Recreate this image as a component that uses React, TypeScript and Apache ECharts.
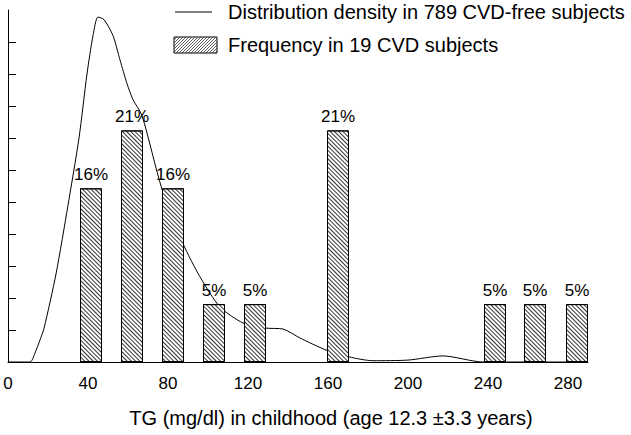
import React, { useEffect, useRef } from "react";
import * as echarts from "echarts";

// Bars: CVD subjects (counts out of 19) placed at the TG bin centres
const binCenters = [41.5, 62, 82.5, 103, 123.5, 165, 243.5, 263.5, 284.5];
const cvdCounts = [3, 4, 3, 1, 1, 4, 1, 1, 1];
const cvdTotal = 19;

// Density curve in 789 CVD-free subjects (arbitrary density units)
const densityTg = [0, 11, 13.5, 16, 18, 24, 30, 35.5, 39.5, 42.5, 45, 48, 52.5, 56, 59.5, 62.5, 67, 77, 87.5, 96, 106, 117.5, 129, 137.5, 146, 159, 170.5, 182.5, 200, 217.5, 237.5, 290];
const densityVal = [0, 0, 0.28, 0.69, 1.05, 2.75, 4.9, 7.0, 9.0, 10.2, 10.78, 10.7, 10.2, 9.44, 8.7, 8.2, 7.7, 5.4, 3.7, 2.66, 1.72, 1.22, 1.06, 1.03, 0.75, 0.375, 0.16, 0.04, 0.06, 0.19, 0.0, 0.0];

const xTickLabels = [0, 40, 80, 120, 160, 200, 240, 280];
const yTickValues = [0, 1, 2, 3, 4, 5, 6, 7, 8, 9, 10];

const legendLine = "Distribution density in 789 CVD-free subjects";
const legendBar = "Frequency in 19 CVD subjects";
const xAxisTitle = "TG (mg/dl) in childhood (age 12.3 ±3.3 years)";

const FONT = "'Liberation Sans', Arial, Helvetica, sans-serif";

function hatchLines(x0: number, y0: number, w: number, h: number, step: number) {
  const x1 = x0 + w;
  const y1 = y0 + h;
  const out: any[] = [];
  for (let k = x0 - h; k < x1; k += step) {
    const tmin = Math.max(0, x0 - k);
    const tmax = Math.min(h, x1 - k);
    if (tmin < tmax) {
      out.push({
        type: "line",
        shape: { x1: k + tmin, y1: y1 - tmin, x2: k + tmax, y2: y1 - tmax },
        style: { stroke: "#333", lineWidth: 0.8 },
        silent: true,
      });
    }
  }
  return out;
}

export default function App() {
  const ref = useRef<HTMLDivElement>(null);
  useEffect(() => {
    if (!ref.current) return;
    const chart = echarts.init(ref.current, undefined, { renderer: "svg" });
    const barData = binCenters.map((c, i) => [c, (cvdCounts[i] / cvdTotal) * 100]);
    const lineData = densityTg.map((t, i) => [t, densityVal[i]]);
    chart.setOption({
      animation: false,
      backgroundColor: "#fff",
      textStyle: { fontFamily: FONT, color: "#000" },
      grid: { left: 8, top: 10, width: 580, height: 352, containLabel: false },
      xAxis: {
        type: "value",
        min: 0,
        max: 290,
        interval: 40,
        axisLine: { show: true, lineStyle: { color: "#000", width: 1 } },
        axisTick: { show: false },
        splitLine: { show: false },
        axisLabel: {
          color: "#000",
          fontSize: 17,
          fontFamily: FONT,
          margin: 13,
          formatter: (v: number) => (xTickLabels.indexOf(v) >= 0 ? String(v) : ""),
        },
      },
      yAxis: [
        {
          type: "value",
          min: 0,
          max: 11,
          interval: 1,
          axisLine: { show: true, lineStyle: { color: "#000", width: 1 } },
          axisTick: { show: true, inside: true, length: 8, customValues: yTickValues, lineStyle: { color: "#000" } },
          axisLabel: { show: false },
          splitLine: { show: false },
        },
        {
          type: "value",
          min: 0,
          max: 32,
          show: false,
          splitLine: { show: false },
        },
      ],
      series: [
        {
          type: "line",
          name: legendLine,
          data: lineData,
          smooth: 0.25,
          symbol: "none",
          z: 2,
          lineStyle: { color: "#000", width: 1 },
        },
        {
          type: "bar",
          name: legendBar,
          yAxisIndex: 1,
          data: barData,
          barWidth: 22,
          z: 3,
          itemStyle: {
            color: "#fff",
            borderColor: "#000",
            borderWidth: 1,
            decal: {
              symbol: "rect",
              symbolSize: 1,
              dashArrayX: [1, 0],
              dashArrayY: [1, 2],
              rotation: Math.PI / 4,
              color: "#333",
            },
          },
          label: {
            show: true,
            position: "top",
            distance: 5,
            color: "#000",
            fontSize: 17,
            fontFamily: FONT,
            formatter: (p: any) => Math.round(p.value[1]) + "%",
          },
        },
      ],
      graphic: [
        {
          type: "line",
          shape: { x1: 175, y1: 12, x2: 212, y2: 12 },
          style: { stroke: "#000", lineWidth: 1 },
        },
        {
          type: "rect",
          shape: { x: 174, y: 37, width: 43, height: 16 },
          style: { fill: "#fff", stroke: "#000", lineWidth: 1 },
        },
        ...hatchLines(174, 37, 43, 16, 3),
        {
          type: "text",
          x: 228,
          y: 12,
          style: { text: legendLine, fontSize: 20, fontFamily: FONT, fill: "#000", verticalAlign: "middle", align: "left" },
        },
        {
          type: "text",
          x: 228,
          y: 45,
          style: { text: legendBar, fontSize: 20, fontFamily: FONT, fill: "#000", verticalAlign: "middle", align: "left" },
        },
        {
          type: "text",
          x: 331,
          y: 418,
          style: { text: xAxisTitle, fontSize: 20, fontFamily: FONT, fill: "#000", verticalAlign: "middle", align: "center" },
        },
      ],
    });
    return () => chart.dispose();
  }, []);
  return (
    <div
      ref={ref}
      style={{ position: "fixed", left: 0, top: 0, width: 631, height: 435, background: "#fff" }}
    />
  );
}
